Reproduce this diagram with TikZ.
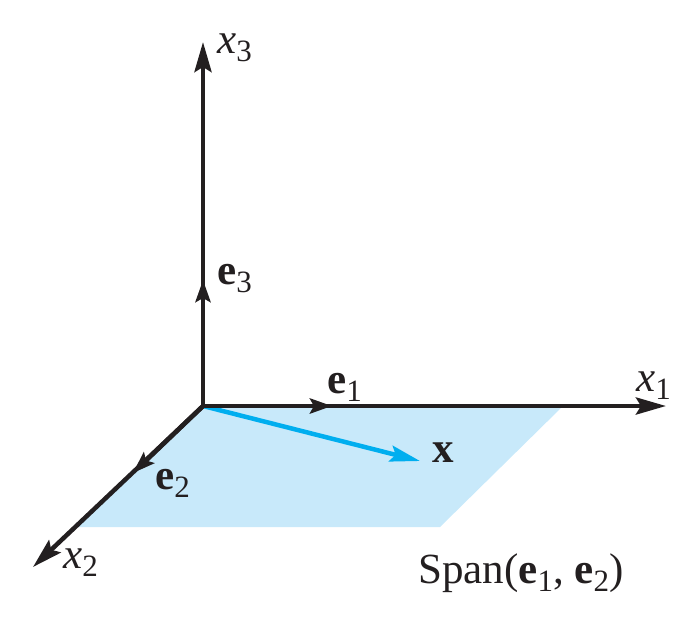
\documentclass[tikz,border=0pt]{standalone}
\usepackage{fontspec}
\setmainfont{Liberation Serif}
\usetikzlibrary{arrows.meta}
\definecolor{planeblue}{HTML}{C8E9FA}
\definecolor{vecblue}{HTML}{00AEEF}
\definecolor{axisblack}{HTML}{231F20}
\newcommand\lsub[1]{\raisebox{-0.2em}{\fontsize{31}{32}\selectfont #1}}
\begin{document}
\begin{tikzpicture}[x=1pt,y=-1pt,
  axisline/.style={line width=4.5pt, draw=axisblack},
  bighead/.style={-{Stealth[length=30pt,width=17pt,inset=5pt]}},
  unitvec/.style={line width=4.5pt, draw=axisblack, fill=axisblack, -{Stealth[length=22pt,width=15pt,inset=4pt]}},
  lbl/.style={inner sep=0pt, anchor=base west, text=axisblack, font=\fontsize{43}{45}\selectfont}]
\useasboundingbox (0,0) rectangle (696,616);
\coordinate (O) at (203,406);
\coordinate (X1) at (666,406);
\coordinate (X3) at (203,42);
\coordinate (X2) at (33,567);
\coordinate (E1) at (332,406);
\coordinate (E3) at (203,280);
\coordinate (E2) at (133,473);
\coordinate (P1) at (563,406);
\coordinate (P2) at (440,527);
\coordinate (P3) at (76,527);
\coordinate (XV) at (420,461);
% plane
\fill[planeblue] (O) -- (P1) -- (P2) -- (P3) -- cycle;
% vector x
\draw[line width=4.5pt, draw=vecblue, -{Stealth[length=30pt,width=16pt,inset=5pt]}] (O) -- (XV);
% axes
\draw[axisline, {Stealth[length=30pt,width=17pt,inset=5pt]}-{Stealth[length=30pt,width=17pt,inset=5pt]}] (X3) -- (O) -- (X1);
\draw[axisline, bighead] (O) -- (X2);
% unit vectors
\draw[unitvec] (O) -- (E1);
\draw[unitvec] (O) -- (E3);
\draw[unitvec] (O) -- (E2);
% labels
\node[lbl] (lx3) at (217,53) {\textit{x}\lsub{3}};
\node[lbl] (lx1) at (636,391) {\textit{x}\lsub{1}};
\node[lbl] (lx2) at (63,568) {\textit{x}\lsub{2}};
\node[lbl] (le3) at (217,284) {\textbf{e}\lsub{3}};
\node[lbl] (le1) at (327,393) {\textbf{e}\lsub{1}};
\node[lbl] (le2) at (155,489) {\textbf{e}\lsub{2}};
\node[lbl] (lx) at (432,462) {\textbf{x}};
\node[lbl] (lspan) at (418,583) {Span(\textbf{e}\lsub{1}, \textbf{e}\lsub{2})};
\end{tikzpicture}
\end{document}
